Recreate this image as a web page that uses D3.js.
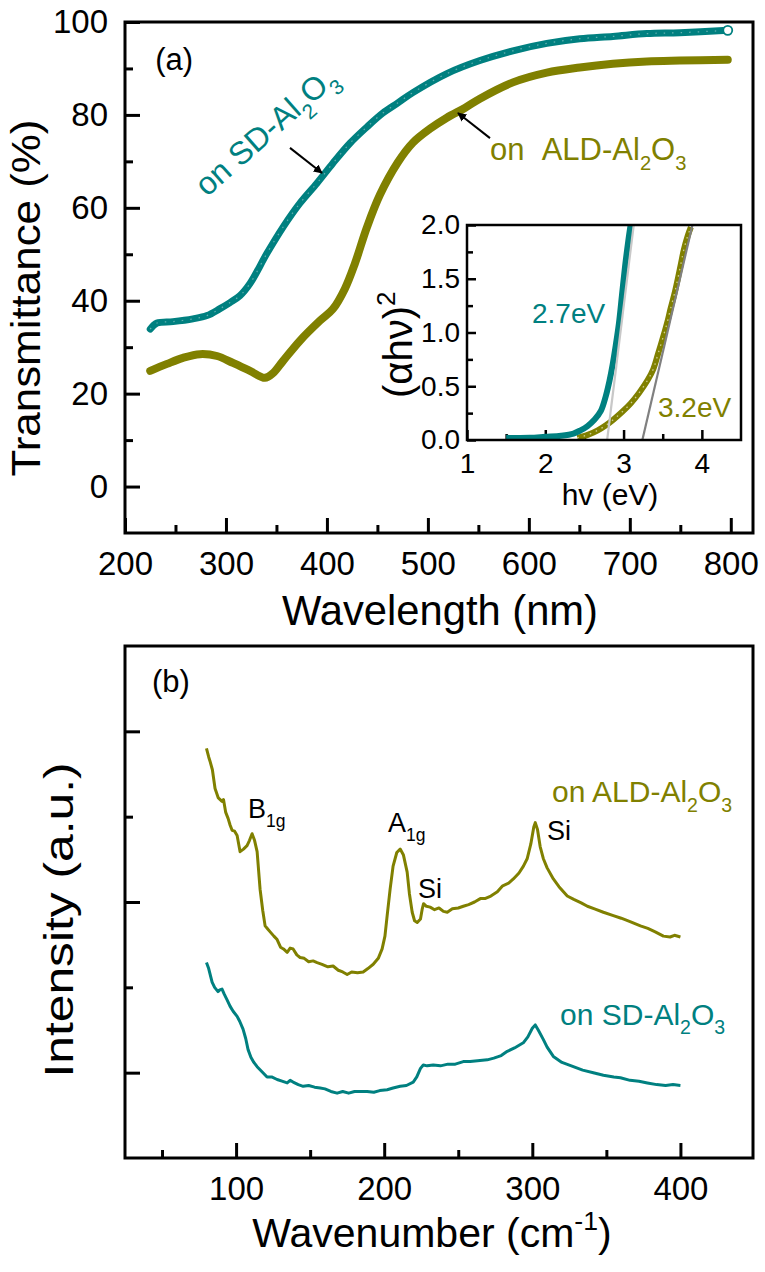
<html>
<head>
<script src="https://d3js.org/d3.v7.min.js"></script>
<style>
  body { margin: 0; background: #fff; }
  text { font-family: "Liberation Sans", Arial, sans-serif; }
</style>
</head>
<body>
<svg id="vis" width="765" height="1272"></svg>
<script>
// ---- data: transmittance (wavelength nm, T %)
const sdTrans = [[225,33.9],[231.7,35.2],[247.5,35.5],[267.3,36.1],[281.2,36.8],[294.1,38.3],[304,39.6],
  [313.9,41.1],[323.8,43.7],[340.6,50.2],[356.4,55.8],[373.3,61.0],[390.1,65.3],[405.9,69.6],[422.8,73.9],
  [439.6,77.4],[455.4,80.4],[470.3,82.6],[485.1,84.8],[518.8,88.9],[551.5,91.7],[584.2,93.8],[617.8,95.4],
  [650.5,96.4],[683.2,96.9],[716.8,97.5],[749.5,97.7],[797,98.2]]
const aldTrans = [[225,24.9],[241.6,26.4],[257.4,27.7],[274.3,28.5],[291.1,28.1],[306.9,26.6],[323.8,24.9],
  [338.6,23.4],[346.5,24.4],[356.4,27.0],[373.3,31.4],[393.1,35.7],[405.9,38.2],[417.8,42.6],[427.7,48.0],
  [439.6,55.8],[452.5,62.8],[470.3,69.8],[485.1,74.0],[502,77.0],[518.8,79.4],[536.6,81.5],[551.5,83.5],
  [584.2,87.0],[617.8,89.1],[650.5,90.2],[683.2,91.0],[716.8,91.5],[749.5,91.7],[797,91.9]]

// ---- data: inset Tauc plot (hv eV, (alpha h nu)^2)
const sdTauc = [[1.5,0.02],[1.8,0.02],[2.0,0.03],[2.2,0.04],[2.36,0.06],[2.45,0.09],[2.54,0.13],[2.63,0.19],
  [2.71,0.27],[2.77,0.4],[2.82,0.55],[2.86,0.7],[2.9,0.88],[2.94,1.08],[2.98,1.35],[3.02,1.62],[3.06,1.85],[3.09,2.0]]
const aldTauc = [[2.41,0.02],[2.55,0.05],[2.67,0.09],[2.78,0.14],[2.87,0.19],[2.98,0.26],[3.09,0.34],[3.2,0.44],
  [3.31,0.56],[3.38,0.66],[3.44,0.8],[3.51,0.97],[3.56,1.1],[3.6,1.22],[3.65,1.36],[3.69,1.49],[3.73,1.63],
  [3.77,1.77],[3.82,1.9],[3.86,1.98]]
const sdFit = [[2.79,0],[3.13,2.0]]
const aldFit = [[3.24,0],[3.88,2.0]]

// ---- data: Raman (wavenumber cm-1, intensity a.u.)
const aldRaman = [[80,4.80],[81.5,4.70],[82.4,4.65],[84,4.55],[85.8,4.33],[88,4.22],[90.5,4.18],[91.5,4.20],
  [93,4.05],[94.6,3.98],[96,3.90],[97.3,3.84],[99,3.83],[100.7,3.78],[102.7,3.59],[105,3.62],[107.4,3.66],
  [109,3.72],[110.8,3.80],[112.5,3.72],[114.2,3.59],[116.2,3.15],[118,2.90],[119.6,2.72],[121.5,2.68],[123,2.65],
  [125.5,2.60],[127.7,2.56],[130,2.47],[132,2.45],[134.5,2.41],[136.5,2.46],[138.5,2.45],[141,2.38],[143.2,2.35],
  [146,2.34],[149,2.30],[152,2.31],[154.7,2.29],[158,2.27],[162,2.24],[165.5,2.25],[169,2.20],[172,2.18],
  [175,2.15],[178,2.18],[182,2.17],[185.8,2.18],[189,2.22],[192.6,2.27],[196,2.34],[198.6,2.45],[200.5,2.6],
  [202,2.84],[204,3.15],[206,3.42],[208.5,3.58],[210.8,3.62],[213,3.55],[215.5,3.35],[217,3.1],[218.9,2.88],
  [220.5,2.78],[222.3,2.76],[224.5,2.80],[225.7,2.92],[226.6,2.98],[228.5,2.95],[231,2.94],[234,2.91],
  [237,2.93],[240,2.89],[242.6,2.88],[246,2.92],[250,2.93],[253.4,2.95],[257,2.97],[261,3.0],[264.9,3.04],
  [268,3.04],[272,3.07],[276.4,3.12],[280,3.19],[284,3.22],[287.2,3.27],[291,3.34],[294,3.42],[296.6,3.51],
  [299,3.68],[301,3.88],[302,3.93],[303.5,3.85],[305.3,3.65],[307.4,3.51],[310,3.40],[314.2,3.27],[318,3.18],
  [323.6,3.07],[328,3.03],[333,2.99],[337.2,2.95],[342,2.92],[348,2.88],[354.7,2.84],[360,2.81],[366,2.77],
  [373,2.72],[378,2.69],[383,2.65],[388.5,2.60],[393,2.59],[396,2.61],[400,2.59]]
const sdRaman = [[80,2.29],[81.5,2.22],[83.8,2.06],[85.5,2.0],[87.8,1.95],[89,1.97],[90.5,1.98],[92,1.92],
  [94,1.85],[95.9,1.78],[98,1.72],[100.7,1.66],[102.5,1.60],[104.7,1.51],[106.5,1.40],[108.1,1.27],[110,1.18],
  [112,1.12],[114.2,1.07],[117,1.02],[120.9,0.95],[124,0.95],[127.7,0.92],[131,0.90],[134.5,0.88],[136.5,0.91],
  [138.5,0.89],[142,0.86],[145.3,0.84],[149,0.85],[153,0.83],[156.8,0.82],[160,0.81],[164,0.78],[168.2,0.76],
  [172,0.78],[176,0.76],[180,0.78],[184,0.78],[188.5,0.78],[193,0.77],[197,0.79],[202,0.80],[206,0.82],
  [210.8,0.84],[215,0.85],[219.6,0.89],[222,0.95],[224.5,1.05],[226.4,1.09],[229,1.08],[233.1,1.09],[238,1.08],
  [243,1.10],[248,1.10],[253.4,1.13],[258,1.13],[263,1.14],[269.6,1.15],[274,1.17],[279,1.20],[283.1,1.25],
  [288,1.29],[293.9,1.35],[297,1.42],[300,1.52],[302,1.56],[304,1.50],[307.4,1.39],[310,1.30],[314.2,1.19],
  [320,1.12],[327.7,1.07],[334,1.03],[341.2,1.00],[348,0.97],[355,0.95],[359.5,0.94],[366,0.91],[372,0.90],
  [377.7,0.88],[384,0.86],[390,0.85],[395,0.86],[400,0.85]]

// ---- ticks
const wlMajor = [200,300,400,500,600,700,800], wlMinor = [250,350,450,550,650,750]
const tMajor = [0,20,40,60,80,100], tMinor = [10,30,50,70,90]
const evMajor = [1,2,3,4], evMinor = [1.5,2.5,3.5]
const tcMajor = [0,0.5,1.0,1.5,2.0], tcMinor = [0.25,0.75,1.25,1.75]
const wnMajor = [100,200,300,400], wnMinor = [50,150,250,350]
const inMajor = [1,3,5], inMinor = [2,4]

const teal = '#008080', olive = '#808000'
const svg = d3.select("#vis")
svg.append("rect").attr("width", 765).attr("height", 1272).attr("fill", "#fff")

function frame(x, y, w) {
  svg.append("rect")
    .attr("x", x.range()[0]).attr("y", y.range()[1])
    .attr("width", x.range()[1] - x.range()[0])
    .attr("height", y.range()[0] - y.range()[1])
    .attr("fill", "none").attr("stroke", "#000").attr("stroke-width", w)
}

function axis(ax, tr, fs, w) {
  const g = svg.append("g").attr("transform", tr).call(ax)
    .attr("font-size", fs).attr("font-family", '"Liberation Sans", Arial, sans-serif')
  g.select(".domain").remove()
  g.selectAll("line").attr("stroke", "#000").attr("stroke-width", w)
  g.selectAll("text").attr("fill", "#000")
  return g
}

// rich text with sub/superscripts
function rich(t, parts, size) {
  let shift = 0
  parts.forEach(([s, k]) => {
    const target = k === 'sub' ? size * 0.32 : k === 'sup' ? -size * 0.42 : 0
    t.append("tspan").attr("dy", target - shift)
      .attr("font-size", k === 'n' ? size : size * 0.65).text(s)
    shift = target
  })
  return t
}
const al2o3 = [["Al", 'n'], ["2", 'sub'], ["O", 'n'], ["3", 'sub']]

svg.append("defs").append("marker")
  .attr("id", "arr").attr("viewBox", "0 0 10 10").attr("refX", 9).attr("refY", 5)
  .attr("markerWidth", 9).attr("markerHeight", 9).attr("markerUnits", "userSpaceOnUse")
  .attr("orient", "auto")
  .append("path").attr("d", "M0,0 L10,5 L0,10 z").attr("fill", "#000")

// ================= panel (a) =================
const xT = d3.scaleLinear().domain([200, 822]).range([125, 753])
const yT = d3.scaleLinear().domain([-10, 100]).range([533, 22])

axis(d3.axisBottom(xT).tickValues(wlMajor).tickSize(-15).tickPadding(19), "translate(0,533)", 33, 3)
axis(d3.axisBottom(xT).tickValues(wlMinor).tickSize(-8).tickFormat(""), "translate(0,533)", 33, 3)
axis(d3.axisLeft(yT).tickValues(tMajor).tickSize(-15).tickPadding(17), "translate(125,0)", 33, 3)
axis(d3.axisLeft(yT).tickValues(tMinor).tickSize(-8).tickFormat(""), "translate(125,0)", 33, 3)

const lineT = d3.line().x(d => xT(d[0])).y(d => yT(d[1])).curve(d3.curveCatmullRom)
svg.append("path").datum(aldTrans).attr("d", lineT)
  .attr("fill", "none").attr("stroke", olive).attr("stroke-width", 8).attr("stroke-linecap", "round")
svg.append("path").datum(sdTrans).attr("d", lineT)
  .attr("fill", "none").attr("stroke", teal).attr("stroke-width", 7).attr("stroke-linecap", "round")
svg.append("path").datum(sdTrans).attr("d", lineT)
  .attr("fill", "none").attr("stroke", "#bfe0e0").attr("stroke-width", 1.2)
  .attr("stroke-dasharray", "1.5 7").attr("opacity", 0.5)
const sdEnd = sdTrans[sdTrans.length - 1]
svg.append("circle").attr("cx", xT(sdEnd[0])).attr("cy", yT(sdEnd[1])).attr("r", 4.5)
  .attr("fill", "#fff").attr("stroke", teal).attr("stroke-width", 1.8)

frame(xT, yT, 3)

svg.append("text").attr("x", xT(230)).attr("y", yT(89.7)).attr("font-size", 31).text("(a)")

// annotations
svg.append("line").attr("x1", xT(363.4)).attr("y1", yT(72.9)).attr("x2", xT(395.1)).attr("y2", yT(67.5))
  .attr("stroke", "#000").attr("stroke-width", 2).attr("marker-end", "url(#arr)")
svg.append("line").attr("x1", xT(561.5)).attr("y1", yT(75.0)).attr("x2", xT(529.8)).attr("y2", yT(80.4))
  .attr("stroke", "#000").attr("stroke-width", 2).attr("marker-end", "url(#arr)")

rich(svg.append("text").attr("fill", teal)
  .attr("transform", `translate(${xT(281.2)},${yT(62.2)}) rotate(-41.5)`),
  [["on SD-", 'n']].concat(al2o3), 32)
rich(svg.append("text").attr("fill", olive).attr("x", xT(561.5)).attr("y", yT(70.2)),
  [["on\u00a0\u00a0ALD-", 'n']].concat(al2o3), 31)

svg.append("text").attr("x", 440).attr("y", 625).attr("text-anchor", "middle")
  .attr("font-size", 42).attr("textLength", 316).attr("lengthAdjust", "spacingAndGlyphs")
  .text("Wavelength (nm)")
svg.append("text").attr("transform", "translate(40,298) rotate(-90)").attr("text-anchor", "middle")
  .attr("font-size", 41).attr("textLength", 357).attr("lengthAdjust", "spacingAndGlyphs")
  .text("Transmittance (%)")

// ---- inset
const xI = d3.scaleLinear().domain([1, 4.5]).range([467, 741])
const yI = d3.scaleLinear().domain([0, 2]).range([440, 225])

svg.append("rect").attr("x", 467).attr("y", 225).attr("width", 274).attr("height", 215).attr("fill", "#fff")
axis(d3.axisBottom(xI).tickValues(evMajor).tickSize(-10).tickPadding(13).tickFormat(d3.format("d")), "translate(0,440)", 28, 2.5)
axis(d3.axisBottom(xI).tickValues(evMinor).tickSize(-6).tickFormat(""), "translate(0,440)", 28, 2.5)
axis(d3.axisLeft(yI).tickValues(tcMajor).tickSize(-9).tickPadding(7).tickFormat(d3.format(".1f")), "translate(467,0)", 28, 2.5)
axis(d3.axisLeft(yI).tickValues(tcMinor).tickSize(-6).tickFormat(""), "translate(467,0)", 28, 2.5)

const lineI = d3.line().x(d => xI(d[0])).y(d => yI(d[1])).curve(d3.curveCatmullRom)
svg.append("path").datum(aldTauc).attr("d", lineI)
  .attr("fill", "none").attr("stroke", olive).attr("stroke-width", 6)
svg.append("path").datum(aldTauc).attr("d", lineI)
  .attr("fill", "none").attr("stroke", "#e0e0b0").attr("stroke-width", 1.3)
  .attr("stroke-dasharray", "1.5 5").attr("opacity", 0.8)
svg.append("path").datum(sdTauc).attr("d", lineI)
  .attr("fill", "none").attr("stroke", teal).attr("stroke-width", 6)
svg.append("path").datum(sdFit).attr("d", lineI)
  .attr("fill", "none").attr("stroke", "#c8c8c8").attr("stroke-width", 2.2)
svg.append("path").datum(aldFit).attr("d", lineI)
  .attr("fill", "none").attr("stroke", "#808080").attr("stroke-width", 2.2)

frame(xI, yI, 2.5)

svg.append("text").attr("x", xI(1.83)).attr("y", yI(1.09)).attr("fill", teal).attr("font-size", 28).text("2.7eV")
svg.append("text").attr("x", xI(3.44)).attr("y", yI(0.21)).attr("fill", olive).attr("font-size", 28).text("3.2eV")
svg.append("text").attr("x", 610).attr("y", 505).attr("text-anchor", "middle").attr("font-size", 30).text("hv (eV)")
rich(svg.append("text").attr("transform", "translate(412,398) rotate(-90)"),
  [["(αhν)", 'n'], ["2", 'sup']], 40)

// ================= panel (b) =================
const xR = d3.scaleLinear().domain([25, 449]).range([125, 753])
const yR = d3.scaleLinear().domain([0, 6]).range([1158, 646])

axis(d3.axisBottom(xR).tickValues(wnMajor).tickSize(-15).tickPadding(19), "translate(0,1158)", 33, 3)
axis(d3.axisBottom(xR).tickValues(wnMinor).tickSize(-8).tickFormat(""), "translate(0,1158)", 33, 3)
axis(d3.axisLeft(yR).tickValues(inMajor).tickSize(-15).tickFormat(""), "translate(125,0)", 33, 3)
axis(d3.axisLeft(yR).tickValues(inMinor).tickSize(-8).tickFormat(""), "translate(125,0)", 33, 3)

const lineR = d3.line().x(d => xR(d[0])).y(d => yR(d[1]))
svg.append("path").datum(aldRaman).attr("d", lineR)
  .attr("fill", "none").attr("stroke", olive).attr("stroke-width", 3).attr("stroke-linejoin", "round")
svg.append("path").datum(sdRaman).attr("d", lineR)
  .attr("fill", "none").attr("stroke", teal).attr("stroke-width", 3).attr("stroke-linejoin", "round")

frame(xR, yR, 3)

svg.append("text").attr("x", xR(43.2)).attr("y", yR(5.46)).attr("font-size", 31).text("(b)")
rich(svg.append("text").attr("x", xR(108)).attr("y", yR(3.98)), [["B", 'n'], ["1g", 'sub']], 27)
rich(svg.append("text").attr("x", xR(202.6)).attr("y", yR(3.82)), [["A", 'n'], ["1g", 'sub']], 27)
svg.append("text").attr("x", xR(222.8)).attr("y", yR(3.05)).attr("font-size", 27).text("Si")
svg.append("text").attr("x", xR(309.9)).attr("y", yR(3.73)).attr("font-size", 27).text("Si")
rich(svg.append("text").attr("fill", olive).attr("x", xR(313.3)).attr("y", yR(4.17)),
  [["on ALD-", 'n']].concat(al2o3), 30)
rich(svg.append("text").attr("fill", teal).attr("x", xR(318.7)).attr("y", yR(1.56)),
  [["on SD-", 'n']].concat(al2o3), 30)

rich(svg.append("text").attr("x", 432).attr("y", 1247).attr("text-anchor", "middle"),
  [["Wavenumber (cm", 'n'], ["-1", 'sup'], [")", 'n']], 41)
svg.append("text").attr("transform", "translate(73,920) rotate(-90)").attr("text-anchor", "middle")
  .attr("font-size", 40).attr("textLength", 315).attr("lengthAdjust", "spacingAndGlyphs")
  .text("Intensity (a.u.)")
</script>
</body>
</html>
